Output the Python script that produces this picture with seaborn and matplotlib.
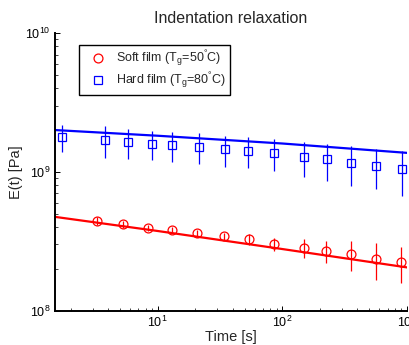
import matplotlib
matplotlib.use("Agg")
import matplotlib.pyplot as plt
import seaborn as sns
import pandas as pd

# ---- data ----
soft_t = [3.24, 5.29, 8.41, 13.1, 20.8, 34.0, 54.3, 85.7, 149, 224, 356, 565, 901]
soft_E = [4.44e8, 4.19e8, 3.94e8, 3.81e8, 3.61e8, 3.45e8, 3.26e8, 3.02e8,
          2.83e8, 2.69e8, 2.56e8, 2.36e8, 2.23e8]
soft_err = [0.32e8, 0.25e8, 0.22e8, 0.20e8, 0.20e8, 0.20e8, 0.30e8, 0.33e8,
            0.45e8, 0.50e8, 0.63e8, 0.70e8, 0.64e8]

hard_t = [1.70, 3.78, 5.81, 8.95, 13.1, 21.3, 34.5, 52.8, 86.3, 149, 227, 356, 565, 907]
hard_E = [1.79e9, 1.69e9, 1.64e9, 1.60e9, 1.55e9, 1.51e9, 1.45e9, 1.42e9,
          1.36e9, 1.28e9, 1.23e9, 1.16e9, 1.11e9, 1.045e9]
hard_err = [0.39e9, 0.44e9, 0.41e9, 0.38e9, 0.38e9, 0.38e9, 0.37e9, 0.36e9,
            0.35e9, 0.36e9, 0.37e9, 0.375e9, 0.36e9, 0.375e9]

fit_t = [1.5, 10, 100, 1000]
soft_fit = [4.74e8, 3.75e8, 2.78e8, 2.05e8]
hard_fit = [2.0e9, 1.82e9, 1.60e9, 1.37e9]

labels = ["Soft film (T$_\\mathrm{g}$=50$^\\mathrm{°}$C)",
          "Hard film (T$_\\mathrm{g}$=80$^\\mathrm{°}$C)"]
title = "Indentation relaxation"
xlabel = "Time [s]"
ylabel = "E(t) [Pa]"

# ---- style ----
sns.set_style("ticks")
plt.rcParams["font.family"] = ["Liberation Sans", "DejaVu Sans"]
plt.rcParams["mathtext.fontset"] = "custom"
plt.rcParams["mathtext.rm"] = "Liberation Sans"
plt.rcParams["mathtext.it"] = "Liberation Sans:italic"
plt.rcParams["mathtext.bf"] = "Liberation Sans:bold"

fig = plt.figure(figsize=(4.09, 3.45), dpi=100)
W, H = 409, 345
left, right, bottom, top = 55, 407, 310.7, 33
ax = fig.add_axes([left / W, 1 - bottom / H, (right - left) / W, (bottom - top) / H])
ax.set_xscale("log")
ax.set_yscale("log")

fit_df = pd.DataFrame({"t": fit_t + fit_t,
                       "E": soft_fit + hard_fit,
                       "film": ["soft"] * len(fit_t) + ["hard"] * len(fit_t)})
sns.lineplot(data=fit_df, x="t", y="E", hue="film",
             palette={"soft": "#ff0000", "hard": "#0000ff"},
             lw=1.6, ax=ax, legend=False)

e1 = ax.errorbar(soft_t, soft_E, yerr=soft_err, fmt="o", mfc="none", mec="#ff0000",
                 ecolor="#ff0000", ms=6.4, mew=0.9, elinewidth=0.9, capsize=0)
e2 = ax.errorbar(hard_t, hard_E, yerr=hard_err, fmt="s", mfc="none", mec="#0000ff",
                 ecolor="#0000ff", ms=5.6, mew=0.9, elinewidth=0.9, capsize=0)

ax.set_xlim(1.5, 1000)
ax.set_ylim(1e8, 1e10)

sns.despine(ax=ax)
for s in ["left", "bottom"]:
    ax.spines[s].set_linewidth(1.4)
    ax.spines[s].set_color("black")
ax.tick_params(which="major", direction="in", length=3.5, width=0.7, labelsize=9,
               colors="black", pad=3)
ax.tick_params(which="minor", direction="in", length=2.2, width=0.6)

ax.set_title(title, fontsize=11.5, pad=7)
ax.set_xlabel(xlabel, fontsize=10.5, labelpad=0)
ax.set_ylabel(ylabel, fontsize=10.5, labelpad=2)

leg = ax.legend([e1[0], e2[0]], labels, loc="upper left",
                bbox_to_anchor=((79 - left) / (right - left), (bottom - 45) / (bottom - top)),
                borderaxespad=0, fontsize=9, frameon=True, fancybox=False,
                framealpha=1, edgecolor="black", handlelength=2.5,
                handletextpad=0.2, borderpad=0.3, labelspacing=0.2)
leg.get_frame().set_linewidth(1.0)

fig.savefig("out.png", dpi=100)
